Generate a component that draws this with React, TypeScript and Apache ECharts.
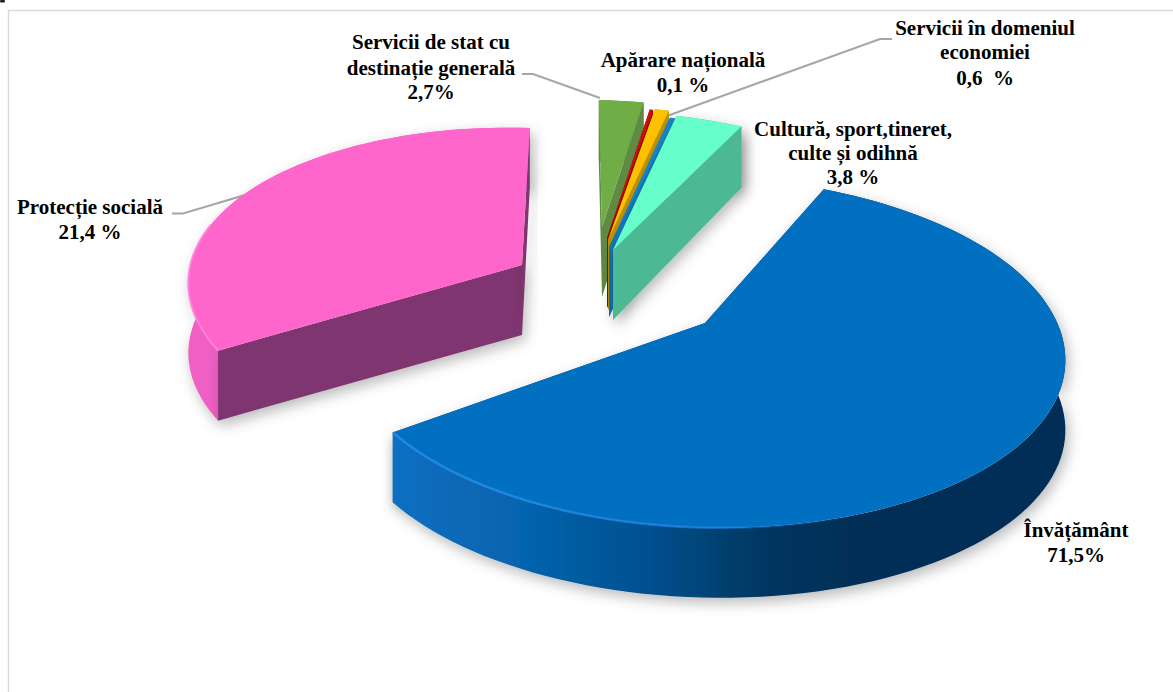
import React, { useEffect, useRef } from "react";
import * as echarts from "echarts";

// Slices in the order they are painted (clockwise from the first slice angle).
const categories = [
  "Învățământ",
  "Protecție socială",
  "Servicii de stat cu destinație generală",
  "Apărare națională",
  "Servicii în domeniul economiei",
  "Altele",
  "Cultură, sport,tineret, culte și odihnă",
];
// Share of the circle each slice occupies as drawn in the picture (percent).
const drawnShares = [58.2, 34.4, 2.7, 0.2, 0.8, 0.3, 3.7];
// Angle at which each slice begins, clockwise from the top (degrees).
const sliceStartAngles = [30, 245, 366.6, 376.3, 377, 379.9, 380];
const sliceRadius = [1, 0.93, 0.85, 0.88, 0.9, 0.9, 0.94];

const topColors = ["#0270C1", "#FF66CC", "#70AD47", "#C8120C", "#FFC000", "#1488CC", "#66FFCC"];
const radialWallColors = ["#02467A", "#7F3670", "#5F8A41", "#8C0A08", "#BF9000", "#1278B8", "#4DB894"];
const arcWallStops: [number, string][][] = [
  [[0, "#0A6FC2"], [0.23, "#0660A8"], [0.38, "#05508F"], [0.49, "#04406F"], [0.565, "#033560"], [0.68, "#032F57"], [1, "#032F57"]],
  [[0, "#F060C4"], [1, "#F060C4"]],
  [[0, "#5F8A41"], [1, "#5F8A41"]],
  [[0, "#8C0A08"], [1, "#8C0A08"]],
  [[0, "#BF9000"], [1, "#BF9000"]],
  [[0, "#1278B8"], [1, "#1278B8"]],
  [[0, "#4DB894"], [1, "#4DB894"]],
];
// Exploded position of each slice's tip.
const tipX = [705, 522, 602, 607, 608, 609, 613];
const tipY = [323, 265, 227, 238, 240, 247, 250];

// Perspective of the tilted pie.
const SCALE_X = 352;
const SCALE_Y = 170;
const SHEAR_X = 45;
const SHEAR_Y = -14;
const DEPTH = 70;
const PERSPECTIVE_V = 0.166;
const PERSPECTIVE_U = 0.02;

const labelLines = [
  { lines: ["Învățământ", "71,5%"], x: 1076, y: [530, 555] },
  { lines: ["Protecție socială", "21,4 %"], x: 90, y: [207, 232] },
  { lines: ["Servicii de stat cu", "destinație generală", "2,7%"], x: 431, y: [42, 68, 92] },
  { lines: ["Apărare națională", "0,1 %"], x: 683, y: [60, 85] },
  { lines: ["Servicii în domeniul", "economiei", "0,6  %"], x: 985, y: [28, 52, 78] },
  { lines: ["Cultură, sport,tineret,", "culte și odihnă", "3,8 %"], x: 853, y: [129, 153, 177] },
];
const leaderLines = [
  [[172, 213.5], [183, 213.5], [245, 195]],
  [[522, 74], [533, 74], [600, 98]],
  [[892, 39], [880, 39], [667, 116]],
];

function project(tx: number, ty: number, deg: number, r: number, z: number): number[] {
  const a = (deg * Math.PI) / 180;
  const u = r * Math.sin(a);
  const v = -r * Math.cos(a);
  const w = 1 - PERSPECTIVE_V * v + PERSPECTIVE_U * u;
  return [
    tx + (SCALE_X * u + SHEAR_X * v) / w,
    ty + (SCALE_Y * v + SHEAR_Y * u) / w + (DEPTH * z) / Math.max(1, w),
  ];
}

function arcPoints(tx: number, ty: number, a0: number, a1: number, r: number, z: number): number[][] {
  const n = Math.max(2, Math.ceil((a1 - a0) / 2));
  const pts: number[][] = [];
  for (let i = 0; i <= n; i++) pts.push(project(tx, ty, a0 + ((a1 - a0) * i) / n, r, z));
  return pts;
}

function renderSlice(params: any, api: any) {
  const i = params.dataIndex;
  const a0 = api.value(0);
  const a1 = a0 + (api.value(1) / 100) * 360;
  const tx = tipX[i];
  const ty = tipY[i];
  const r = sliceRadius[i];
  const topArc = arcPoints(tx, ty, a0, a1, r, 0);
  const bottomArc = arcPoints(tx, ty, a0, a1, r, 1);
  const shadow = i < 2 || i === 6
    ? { shadowBlur: 14, shadowColor: "rgba(0,0,0,0.28)", shadowOffsetX: 3, shadowOffsetY: 5 }
    : {};
  const radialWall = (deg: number) => ({
    type: "polygon",
    shape: {
      points: [
        project(tx, ty, deg, 0, 0),
        project(tx, ty, deg, r, 0),
        project(tx, ty, deg, r, 1),
        project(tx, ty, deg, 0, 1),
      ],
    },
    style: { fill: radialWallColors[i], ...shadow },
  });
  const sin = (d: number) => Math.sin((d * Math.PI) / 180);
  const backWalls: any[] = [];
  const frontWalls: any[] = [];
  (sin(a0) < 0 ? frontWalls : backWalls).push(radialWall(a0));
  (sin(a1) > 0 ? frontWalls : backWalls).push(radialWall(a1));
  const children: any[] = [
    ...backWalls,
    {
      type: "polygon",
      shape: { points: [...topArc, ...bottomArc.slice().reverse()] },
      style: {
        fill: new echarts.graphic.LinearGradient(
          0, 0, 1, 0,
          arcWallStops[i].map(([offset, color]) => ({ offset, color }))
        ),
        ...shadow,
      },
    },
    ...frontWalls,
    {
      type: "polygon",
      shape: { points: [project(tx, ty, a0, 0, 0), ...topArc] },
      style: { fill: topColors[i] },
    },
  ];
  if (i === 0) {
    children.push({
      type: "polyline",
      shape: { points: arcPoints(tx, ty, 165, a1, r, 0) },
      style: {
        fill: null,
        lineWidth: 2.5,
        stroke: new echarts.graphic.LinearGradient(0, 0, 1, 0, [
          { offset: 0, color: "rgba(36,140,232,0.9)" },
          { offset: 0.65, color: "rgba(30,130,225,0.7)" },
          { offset: 1, color: "rgba(2,112,193,0)" },
        ]),
      },
    });
  }
  if (i === 1) {
    children.push({
      type: "polyline",
      shape: { points: arcPoints(tx, ty, a0, a0 + 45, r, 0) },
      style: { fill: null, lineWidth: 2, stroke: "rgba(255,130,222,0.9)" },
    });
  }
  return { type: "group", children };
}

export default function App() {
  const ref = useRef<HTMLDivElement>(null);
  useEffect(() => {
    const chart = echarts.init(ref.current!, undefined, { renderer: "svg" });
    const texts: any[] = [];
    labelLines.forEach((l) =>
      l.lines.forEach((t, k) =>
        texts.push({
          type: "text",
          x: l.x,
          y: l.y[k],
          style: {
            text: t,
            fill: "#000",
            font: 'bold 21px "Liberation Serif"',
            align: "center",
            verticalAlign: "middle",
          },
        })
      )
    );
    chart.setOption({
      animation: false,
      backgroundColor: "#fff",
      graphic: [
        { type: "rect", shape: { x: 0, y: 0, width: 5, height: 2.5, r: 1 }, style: { fill: "#222" } },
        {
          type: "polyline",
          shape: { points: [[8.5, 692], [8.5, 10.5], [1173, 10.5]] },
          style: { fill: null, stroke: "#D9D9D9", lineWidth: 1.5 },
        },
        ...leaderLines.map((points) => ({
          type: "polyline",
          shape: { points },
          style: { fill: null, stroke: "#A6A6A6", lineWidth: 2 },
        })),
        ...texts,
      ],
      series: [
        {
          type: "custom",
          coordinateSystem: "none",
          name: "Cheltuieli",
          data: categories.map((name, i) => ({ name, value: [sliceStartAngles[i], drawnShares[i]] })),
          renderItem: renderSlice,
          silent: true,
        },
      ],
    });
    return () => chart.dispose();
  }, []);
  return (
    <div
      ref={ref}
      style={{ position: "absolute", left: 0, top: 0, width: 1173, height: 692 }}
    />
  );
}
